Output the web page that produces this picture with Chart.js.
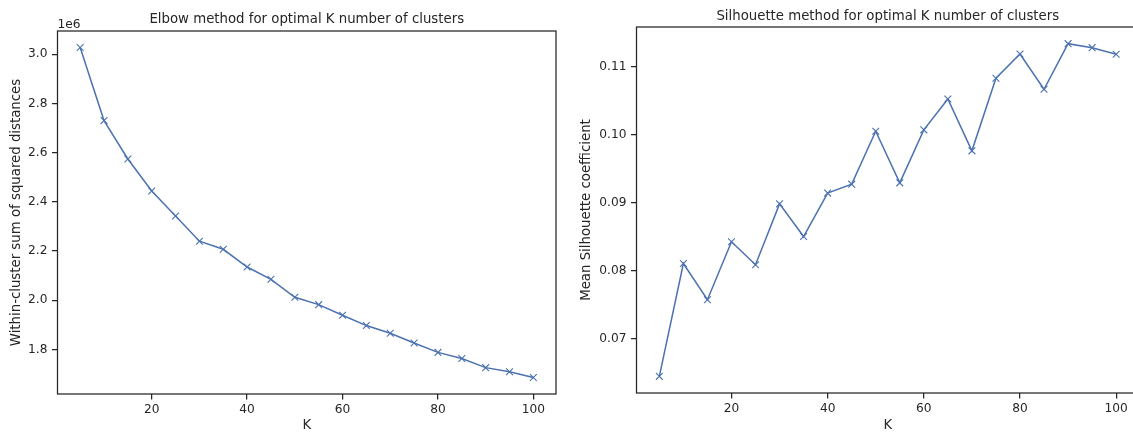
<!DOCTYPE html>
<html>
<head>
<meta charset="utf-8">
<script src="https://cdn.jsdelivr.net/npm/chart.js@4"></script>
<style>
  html, body { margin: 0; padding: 0; background: #fff; overflow: hidden; width: 1133px; height: 434px; }
  .wrap { position: absolute; top: 0; height: 434px; }
  #w1 { left: 0; width: 566px; }
  #w2 { left: 570px; width: 575px; }
  canvas { display: block; }
</style>
</head>
<body>
<div class="wrap" id="w1"><canvas id="c1" width="566" height="434"></canvas></div>
<div class="wrap" id="w2"><canvas id="c2" width="575" height="434"></canvas></div>
<script>
// ---- data ----
const kValues = [5, 10, 15, 20, 25, 30, 35, 40, 45, 50, 55, 60, 65, 70, 75, 80, 85, 90, 95, 100];
const withinClusterSS = [3027000, 2730000, 2574000, 2444000, 2342000, 2240000, 2207000, 2135000, 2085000, 2012000,
                         1982000, 1939000, 1897000, 1866000, 1826000, 1788000, 1763000, 1726000, 1709000, 1686000];
const silhouette = [0.06446, 0.08107, 0.07574, 0.08426, 0.08088, 0.08985, 0.08504, 0.09143, 0.09275, 0.10054,
                    0.09294, 0.10074, 0.10529, 0.09765, 0.10834, 0.11191, 0.10672, 0.11343, 0.11284, 0.11187];
const xTicks = [20, 40, 60, 80, 100];
const elbowTicks = [1800000, 2000000, 2200000, 2400000, 2600000, 2800000, 3000000];
const silTicks = [0.07, 0.08, 0.09, 0.10, 0.11];

const INK = '#262626';
const BLUE = '#4c72b0';
const FONT = "'DejaVu Sans', sans-serif";
const TICK_SIZE = 12.2;
const LABEL_SIZE = 13.3;

// frame (all four spines), centred title over the plot area, and the axis offset text
const framePlugin = {
  id: 'frame',
  afterDraw(chart, args, opts) {
    const a = chart.chartArea, ctx = chart.ctx;
    ctx.save();
    ctx.strokeStyle = INK;
    ctx.lineWidth = 1.25;
    ctx.strokeRect(a.left, a.top, a.right - a.left, a.bottom - a.top);
    ctx.fillStyle = INK;
    if (opts.title) {
      ctx.font = LABEL_SIZE + "px " + FONT;
      ctx.textAlign = 'center';
      ctx.textBaseline = 'alphabetic';
      ctx.fillText(opts.title, (a.left + a.right) / 2, opts.titleBaseline);
    }
    if (opts.offsetText) {
      ctx.font = TICK_SIZE + "px " + FONT;
      ctx.textAlign = 'left';
      ctx.textBaseline = 'alphabetic';
      ctx.fillText(opts.offsetText, a.left, 28);
    }
    ctx.restore();
  }
};

function pts(xs, ys) { return xs.map((x, i) => ({ x: x, y: ys[i] })); }

function makeChart(id, cfg) {
  return new Chart(document.getElementById(id), {
    type: 'line',
    data: {
      datasets: [{
        data: pts(kValues, cfg.values),
        borderColor: BLUE,
        backgroundColor: BLUE,
        borderWidth: 1.5,
        pointStyle: 'crossRot',
        pointRadius: 4.8,
        pointBorderWidth: 1.1,
        pointBorderColor: BLUE,
        tension: 0,
        fill: false
      }]
    },
    options: {
      responsive: false,
      animation: false,
      devicePixelRatio: 1,
      layout: { padding: { left: 0, right: cfg.padRight, top: cfg.padTop, bottom: 0 } },
      plugins: {
        legend: { display: false },
        tooltip: { enabled: false },
        title: { display: false },
        frame: { offsetText: cfg.offsetText, title: cfg.title, titleBaseline: cfg.titleBaseline }
      },
      scales: {
        x: {
          type: 'linear',
          min: 0.25, max: 104.75,
          afterBuildTicks: s => { s.ticks = xTicks.map(v => ({ value: v })); },
          afterFit: s => { s.height = cfg.xHeight; },
          grid: { display: true, drawOnChartArea: false, drawTicks: true, tickLength: 5.5, color: INK, lineWidth: 1.25 },
          border: { display: false },
          ticks: { color: INK, font: { family: FONT, size: TICK_SIZE }, padding: 3, maxRotation: 0, autoSkip: false,
                   callback: v => String(v) },
          title: { display: true, text: 'K', color: INK, font: { family: FONT, size: LABEL_SIZE }, padding: { top: 0, bottom: 0 } }
        },
        y: {
          type: 'linear',
          min: cfg.yMin, max: cfg.yMax,
          afterBuildTicks: s => { s.ticks = cfg.yTicks.map(v => ({ value: v })); },
          afterFit: s => { s.width = cfg.yWidth; },
          grid: { display: true, drawOnChartArea: false, drawTicks: true, tickLength: 5.5, color: INK, lineWidth: 1.25 },
          border: { display: false },
          ticks: { color: INK, font: { family: FONT, size: TICK_SIZE }, padding: 4.5, autoSkip: false, callback: cfg.fmt },
          title: { display: true, text: cfg.yLabel, color: INK, font: { family: FONT, size: LABEL_SIZE }, padding: { top: 9, bottom: 0 } }
        }
      }
    },
    plugins: [framePlugin]
  });
}

makeChart('c1', {
  values: withinClusterSS,
  title: 'Elbow method for optimal K number of clusters',
  titleBaseline: 23.3,
  padTop: 31,
  padRight: 10,
  xHeight: 40,
  yWidth: 57.5,
  yMin: 1618900, yMax: 3094100,
  yTicks: elbowTicks,
  fmt: v => (v / 1e6).toFixed(1),
  yLabel: 'Within-cluster sum of squared distances',
  offsetText: '1e6'
});

makeChart('c2', {
  values: silhouette,
  title: 'Silhouette method for optimal K number of clusters',
  titleBaseline: 20.3,
  padTop: 27,
  padRight: 6,
  xHeight: 41,
  yWidth: 66.5,
  yMin: 0.06201, yMax: 0.11588,
  yTicks: silTicks,
  fmt: v => v.toFixed(2),
  yLabel: 'Mean Silhouette coefficient',
  offsetText: null
});
</script>
</body>
</html>
